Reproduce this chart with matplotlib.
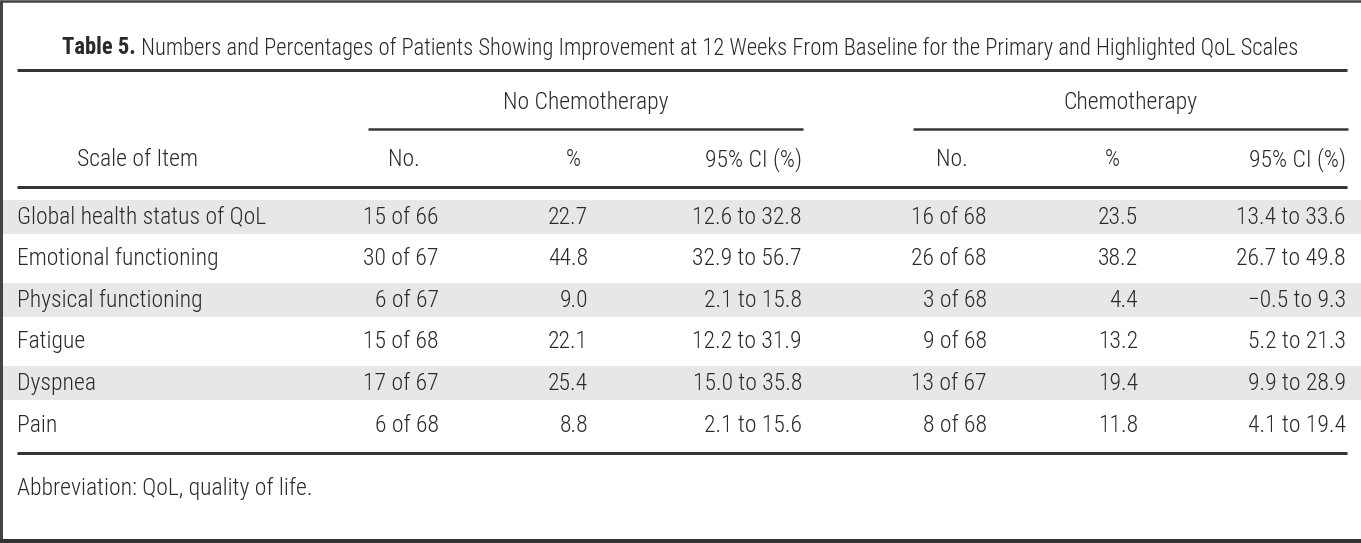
import matplotlib
matplotlib.use("Agg")
import matplotlib.pyplot as plt
from matplotlib import font_manager

# table content
scales = ["Global health status of QoL", "Emotional functioning", "Physical functioning",
          "Fatigue", "Dyspnea", "Pain"]
nochemo_n = [15, 30, 6, 15, 17, 6]
nochemo_tot = [66, 67, 67, 68, 67, 68]
nochemo_pct = [22.7, 44.8, 9.0, 22.1, 25.4, 8.8]
nochemo_lo = [12.6, 32.9, 2.1, 12.2, 15.0, 2.1]
nochemo_hi = [32.8, 56.7, 15.8, 31.9, 35.8, 15.6]
chemo_n = [16, 26, 3, 9, 13, 8]
chemo_tot = [68, 68, 68, 68, 67, 68]
chemo_pct = [23.5, 38.2, 4.4, 13.2, 19.4, 11.8]
chemo_lo = [13.4, 26.7, -0.5, 5.2, 9.9, 4.1]
chemo_hi = [33.6, 49.8, 9.3, 21.3, 28.9, 19.4]

title_bold = "Table 5."
title_rest = " Numbers and Percentages of Patients Showing Improvement at 12 Weeks From Baseline for the Primary and Highlighted QoL Scales"
groups = ["No Chemotherapy", "Chemotherapy"]
col_heads = ["No.", "%", "95% CI (%)"]
stub_head = "Scale of Item"
footnote = "Abbreviation: QoL, quality of life."

W, H = 1361, 543
TXT = "#2a2a2a"
LINE = "#363636"
SHADE = "#e6e7e6"

# pick the narrowest sans that is installed
entries = font_manager.fontManager.ttflist
names = {f.name for f in entries}
STRETCH = "normal"
FAMILY = "DejaVu Sans"
for cand in ["Liberation Sans Narrow", "Roboto Condensed", "Open Sans Condensed",
             "Noto Sans Condensed", "Arial Narrow"]:
    if cand in names:
        FAMILY = cand
        break
else:
    for f in entries:
        if f.name in ("Roboto", "Noto Sans", "DejaVu Sans", "Open Sans") and \
                str(f.stretch) in ("condensed", "semi-condensed", "500", "400", "300") and \
                str(f.stretch) != "normal" and "Bold" not in f.fname and "Oblique" not in f.fname \
                and "Italic" not in f.fname:
            FAMILY = f.name
            STRETCH = "condensed"
            break
FONT = [FAMILY, "DejaVu Sans"]
WEIGHT = "light"


def num(v):
    s = f"{v:.1f}"
    return s.replace("-", "\u2212")


def fmt_n(a, b):
    return f"{a} of {b}"


def fmt_ci(lo, hi):
    return f"{num(lo)} to {num(hi)}"


fig = plt.figure(figsize=(W / 100, H / 100), dpi=100)
ax = fig.add_axes([0, 0, 1, 1])
ax.set_xlim(0, W)
ax.set_ylim(H, 0)
ax.axis("off")
r = fig.canvas.get_renderer()

# size the body font so the first stub label is about as wide as in the print
probe = ax.text(0, 0, scales[0], fontsize=20, family=FONT, stretch=STRETCH, weight=WEIGHT)
FS = 20 * 248 / probe.get_window_extent(r).width
probe.remove()


def put(x, y, s, ha="left", **kw):
    return ax.text(x, y, s, fontsize=kw.pop("fontsize", FS), family=FONT, stretch=STRETCH,
                   weight=kw.pop("weight", WEIGHT), color=TXT, ha=ha, va="center", **kw)


def px(w):
    return w * 72 / 100

# frame (left, top, bottom)
ax.plot([1.5, 1.5], [0, H], color="#444444", lw=px(3), solid_capstyle="butt")
ax.plot([0, W], [1.2, 1.2], color="#444444", lw=px(2.5), solid_capstyle="butt")
ax.plot([0, W], [541, 541], color="#333333", lw=px(4), solid_capstyle="butt")

# title: bold label then regular text, fitted to 58..1302 px
t1 = put(0, 48, title_bold, fontsize=FS, weight="bold")
t2 = ax.annotate(title_rest, xy=(1, 0), xycoords=t1, fontsize=FS, family=FONT,
                 stretch=STRETCH, weight=WEIGHT, color=TXT, va="bottom", ha="left")
fig.canvas.draw()
wt = t1.get_window_extent(r).width + t2.get_window_extent(r).width
TFS = FS * 1244 / wt
t1.set_fontsize(TFS)
t2.set_fontsize(TFS)
fig.canvas.draw()
wt = t1.get_window_extent(r).width + t2.get_window_extent(r).width
t1.set_x(680 - wt / 2)

# rules
x0, x1 = 17, 1347
ax.plot([x0, x1], [70, 70], color=LINE, lw=px(3), solid_capstyle="butt")
ax.plot([x0, x1], [187, 187], color=LINE, lw=px(3), solid_capstyle="butt")
ax.plot([x0, x1], [453, 453], color=LINE, lw=px(3), solid_capstyle="butt")

# group headers with underlines
group_span = [(368, 803), (913, 1348)]
for g, (a, b) in zip(groups, group_span):
    put((a + b) / 2, 102, g, ha="center")
    ax.plot([a, b], [129, 129], color=LINE, lw=px(2.5), solid_capstyle="butt")

# column headers
head_y = 160
put(138, head_y, stub_head, ha="center")
head_x = [(404, "center"), (573, "center"), (802, "right"),
          (952, "center"), (1112, "center"), (1346, "right")]
for (hx, ha), lab in zip(head_x, col_heads * 2):
    put(hx, head_y, lab, ha=ha)

# body rows
row_y0, row_h, band_h = 217, 41.6, 34
data_x = [439, 588, 802, 987, 1138, 1346]
for i, name in enumerate(scales):
    y = row_y0 + i * row_h
    if i % 2 == 0:
        ax.axhspan(y - band_h / 2, y + band_h / 2, xmin=3 / W, xmax=1, color=SHADE, lw=0, zorder=0)
    cells = [fmt_n(nochemo_n[i], nochemo_tot[i]), num(nochemo_pct[i]),
             fmt_ci(nochemo_lo[i], nochemo_hi[i]),
             fmt_n(chemo_n[i], chemo_tot[i]), num(chemo_pct[i]),
             fmt_ci(chemo_lo[i], chemo_hi[i])]
    put(17, y, name)
    for cx, c in zip(data_x, cells):
        put(cx, y, c, ha="right")

put(17, 488, footnote)

fig.savefig("out.png", dpi=100)
